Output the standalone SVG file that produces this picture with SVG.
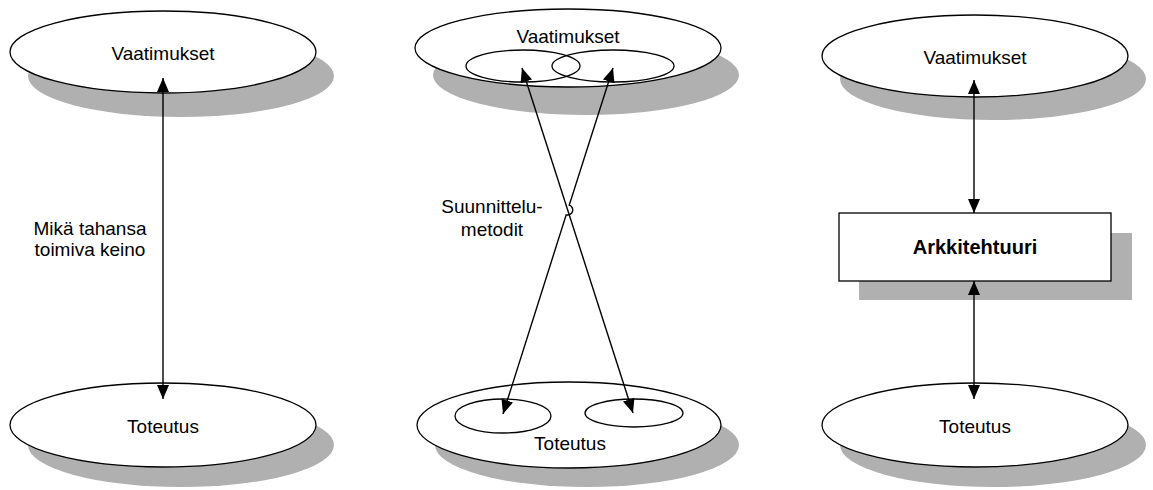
<svg xmlns="http://www.w3.org/2000/svg" width="1153" height="490" viewBox="0 0 1153 490">
  <style>
    .shadow { fill: #b0b0b0; stroke: none; }
    .node { fill: #ffffff; stroke: #000000; stroke-width: 1.3; }
    .inner { fill: none; stroke: #000000; stroke-width: 1.3; }
    .label { font-family: "Liberation Sans", Arial, sans-serif; font-size: 19px; fill: #000000; text-anchor: middle; }
    .bold { font-weight: bold; font-size: 20px; }
    .conn { fill: none; stroke: #000000; stroke-width: 1.4; marker-start: url(#arrow); marker-end: url(#arrow); }
  </style>
  <defs>
    <marker id="arrow" viewBox="0 0 14 12" refX="14" refY="6" markerWidth="14" markerHeight="12" markerUnits="userSpaceOnUse" orient="auto-start-reverse">
      <path d="M0,0 L14,6 L0,12 z" fill="#000000"/>
    </marker>
  </defs>
  <rect width="1153" height="490" fill="#ffffff"/>

  <!-- Left column -->
  <g id="left-vaatimukset">
    <ellipse class="shadow" cx="181" cy="76" rx="153" ry="41"/>
    <ellipse class="node" cx="163" cy="52" rx="153" ry="41"/>
    <text class="label" x="163" y="60">Vaatimukset</text>
  </g>
  <g id="left-toteutus">
    <ellipse class="shadow" cx="181" cy="445" rx="153" ry="42"/>
    <ellipse class="node" cx="163" cy="425" rx="153" ry="42"/>
    <text class="label" x="163" y="433">Toteutus</text>
  </g>
  <g id="left-label">
    <text class="label" x="90" y="235">Mikä tahansa</text>
    <text class="label" x="90" y="256">toimiva keino</text>
  </g>

  <!-- Middle column -->
  <g id="mid-vaatimukset">
    <ellipse class="shadow" cx="586" cy="75" rx="153" ry="40"/>
    <ellipse class="node" cx="568" cy="48" rx="153" ry="39"/>
    <text class="label" x="568" y="43">Vaatimukset</text>
    <ellipse class="inner" cx="523" cy="66" rx="57" ry="16"/>
    <ellipse class="inner" cx="613" cy="66" rx="61" ry="16"/>
  </g>
  <g id="mid-toteutus">
    <ellipse class="shadow" cx="587" cy="445" rx="152" ry="42"/>
    <ellipse class="node" cx="569" cy="425" rx="152" ry="43"/>
    <ellipse class="inner" cx="503" cy="416" rx="48" ry="17"/>
    <ellipse class="inner" cx="634" cy="413" rx="49" ry="14"/>
    <text class="label" x="570" y="450">Toteutus</text>
  </g>
  <g id="mid-label">
    <text class="label" x="492" y="213">Suunnittelu-</text>
    <text class="label" x="492" y="236">metodit</text>
  </g>

  <!-- Right column -->
  <g id="right-vaatimukset">
    <ellipse class="shadow" cx="993" cy="79" rx="153" ry="41"/>
    <ellipse class="node" cx="975" cy="56" rx="153" ry="41"/>
    <text class="label" x="975" y="64">Vaatimukset</text>
  </g>
  <g id="right-arkkitehtuuri">
    <rect class="shadow" x="859" y="233" width="273" height="67"/>
    <rect class="node" x="839" y="213" width="272" height="68"/>
    <text class="label bold" x="975" y="254">Arkkitehtuuri</text>
  </g>
  <g id="right-toteutus">
    <ellipse class="shadow" cx="993" cy="445" rx="153" ry="42"/>
    <ellipse class="node" cx="975" cy="425" rx="153" ry="42"/>
    <text class="label" x="975" y="433">Toteutus</text>
  </g>

  <!-- Connectors -->
  <g id="connectors">
    <path class="conn" d="M163,78 L163,399"/>
    <path class="conn" d="M522,68 L633,413"/>
    <path class="conn" d="M613,68 L569.2,205.2 A5,5 0 0 1 566.2,214.8 L503,414"/>
    <path class="conn" d="M974,80 L974,213"/>
    <path class="conn" d="M974,281 L974,399"/>
  </g>
</svg>
